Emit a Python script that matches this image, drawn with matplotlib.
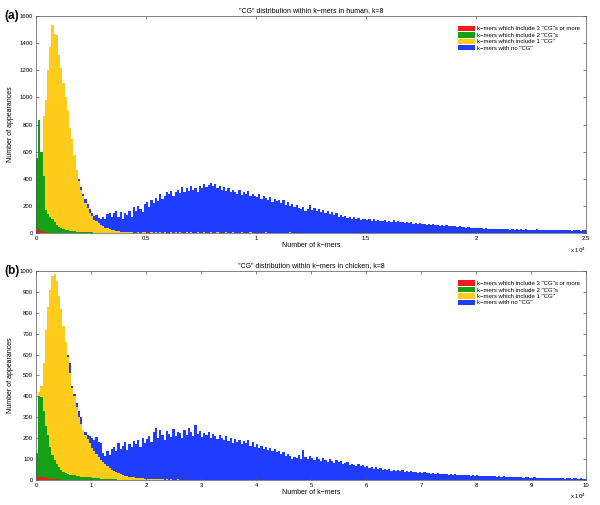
import matplotlib
matplotlib.use('Agg')
import matplotlib.pyplot as plt
import numpy as np

plt.rcParams['font.family'] = ['Liberation Sans', 'DejaVu Sans']

# ---- human, k=8 (bin width 100) ----
human_bw = 100
human_none = [5, 10, 20, 35, 50, 65, 80, 95, 110, 125,
              140, 155, 170, 190, 210, 230, 260, 300, 350,
              395, 340, 290, 250, 215, 175, 150, 125, 135, 110, 105,
              120, 100, 140, 150, 115, 145, 160, 120, 155, 105,
              150, 130, 165, 120, 195, 160, 200, 180, 155, 215,
              230, 195, 240, 220, 260, 235, 290, 250, 275, 300,
              290, 310, 270, 300, 320, 295, 340, 305, 330, 310,
              345, 320, 335, 300, 350, 330, 365, 340, 355, 370,
              345, 360, 330, 350, 320, 340, 310, 335, 300, 320,
              305, 290, 315, 280, 300, 285, 310, 270, 290, 275,
              265, 285, 250, 270, 255, 240, 265, 230, 250, 235,
              245, 220, 240, 210, 230, 200, 215, 190, 210, 185,
              175, 190, 165, 180, 205, 170, 185, 160, 175, 155,
              170, 150, 160, 140, 155, 130, 145, 120, 135, 115,
              125, 110, 120, 100, 115, 105, 110, 95, 105, 100,
              95, 100, 90, 105, 85, 98, 92, 88, 96, 84,
              90, 82, 94, 80, 86, 78, 84, 76, 80, 72,
              78, 70, 76, 68, 72, 66, 70, 62, 68, 60,
              64, 58, 62, 55, 60, 52, 56, 50, 54, 48,
              50, 46, 48, 42, 46, 40, 44, 38, 40, 36,
              38, 34, 36, 32, 35, 30, 33, 29, 32, 28,
              30, 27, 31, 26, 29, 25, 28, 24, 27, 25,
              26, 23, 27, 22, 25, 24, 22, 26, 21, 24,
              23, 20, 24, 21, 22, 19, 23, 20, 21, 22,
              19, 21, 20, 18, 22, 19, 20, 18, 21, 19]
human_one = [100, 300, 590, 860, 980, 1200, 1375, 1535, 1470, 1460,
             1310, 1215, 1105, 1005, 910, 775, 690, 577, 465, 380,
             320, 270, 220, 185, 147, 123, 98, 86, 74, 61,
             50, 40, 35, 30, 25, 20, 15, 12, 10, 8,
             7, 6, 5, 4, 3, 3, 5, 2, 4, 6,
             3, 2, 5, 3, 8, 2, 4, 3, 6, 2,
             3, 5, 2, 4, 3, 7, 2, 3, 4, 2,
             5, 3, 2, 6, 3, 2, 4, 3, 2, 5,
             2, 3, 4, 2, 3, 2, 6, 3, 2, 4,
             3, 2, 3, 5, 2, 3, 2, 4, 2, 3,
             2, 3, 2, 2, 4, 2, 3, 2, 2, 3,
             2, 2, 3, 2, 2, 4, 2, 2, 3, 2]
human_two = [550, 834, 600, 420, 170, 140, 115, 105, 80, 59,
             45, 34, 30, 22, 20, 18, 15, 12, 10, 8,
             7, 6, 5, 5, 4, 4, 3, 3, 2, 2]
human_three = [20, 30, 15, 8, 5, 3, 2, 2, 1, 1]

# ---- chicken, k=8 (bin width 400) ----
chick_bw = 400
chick_none = [30, 150, 250, 330, 400, 450, 480, 500, 510, 520,
              530, 530, 560, 580, 600, 560, 450, 410, 370, 330,
              300, 240, 230, 215, 210, 200, 190, 205, 180, 175,
              130, 115, 140, 120, 150, 160, 140, 175, 150, 165,
              180, 145, 170, 160, 185, 170, 190, 160, 200, 175,
              195, 210, 180, 230, 250, 200, 240, 215, 190, 235,
              220, 205, 245, 210, 230, 225, 200, 240, 215, 250,
              230, 210, 265, 220, 235, 205, 225, 215, 230, 200,
              220, 210, 195, 215, 200, 190, 210, 185, 200, 175,
              195, 180, 190, 170, 185, 175, 190, 165, 180, 160,
              170, 155, 165, 150, 160, 145, 155, 140, 150, 135,
              140, 125, 135, 115, 125, 115, 100, 110, 105, 120,
              100, 145, 110, 100, 115, 105, 95, 110, 100, 90,
              105, 95, 85, 100, 90, 80, 95, 85, 90, 75,
              80, 88, 70, 78, 72, 68, 75, 65, 72, 60,
              66, 58, 64, 55, 62, 52, 58, 50, 55, 47,
              52, 45, 50, 43, 48, 42, 46, 40, 44, 38,
              42, 36, 40, 35, 38, 33, 37, 32, 35, 30,
              34, 29, 32, 28, 31, 27, 30, 26, 28, 25,
              27, 24, 26, 23, 25, 22, 24, 21, 23, 20,
              22, 19, 21, 18, 20, 18, 19, 17, 18, 16,
              17, 15, 17, 14, 16, 14, 15, 13, 14, 12,
              14, 11, 13, 12, 11, 11, 12, 10, 11, 9,
              11, 10, 9, 10, 9, 8, 10, 9, 8, 9,
              7, 9, 8, 7, 8, 9, 7, 8, 6, 7]
chick_one = [60, 420, 450, 560, 720, 830, 910, 975, 985, 950,
             880, 820, 735, 660, 590, 510, 440, 400, 350, 300,
             270, 240, 215, 195, 175, 155, 140, 125, 110, 96,
             85, 75, 66, 58, 50, 44, 38, 33, 28, 24,
             20, 18, 16, 14, 12, 11, 10, 9, 8, 7,
             6, 5, 6, 4, 5, 3, 4, 3, 2, 3,
             2, 3, 2, 2, 3, 2, 2, 1, 2, 1]
chick_two = [130, 400, 395, 330, 260, 215, 160, 120, 95, 75,
             60, 47, 40, 35, 30, 26, 24, 22, 20, 18,
             16, 15, 14, 13, 12, 11, 10, 9, 8, 7,
             6, 5, 5, 4, 4, 3, 3, 2, 2, 2]
chick_three = [12, 15, 14, 12, 10, 8, 6, 5, 4, 3,
               3, 2, 2, 2, 1, 1, 1, 1]

labels = ['k\u2212mers which include 3 "CG"s or more',
          'k\u2212mers which include 2 "CG"s',
          'k\u2212mers which include 1 "CG"',
          'k\u2212mers with no "CG"']
colors = ['#f81a1a', '#14a014', '#ffcc1a', '#1f3cff']

human_xticks = [0, 5000, 10000, 15000, 20000, 25000]
human_xlabels = ['0', '0.5', '1', '1.5', '2', '2.5']
human_yticks = [0, 200, 400, 600, 800, 1000, 1200, 1400, 1600]
chick_xticks = [0, 10000, 20000, 30000, 40000, 50000, 60000, 70000, 80000, 90000, 100000]
chick_xlabels = ['0', '1', '2', '3', '4', '5', '6', '7', '8', '9', '10']
chick_yticks = [0, 100, 200, 300, 400, 500, 600, 700, 800, 900, 1000]

fig = plt.figure(figsize=(6, 5.05), dpi=100)
ax1 = fig.add_axes([0.06, 0.5386, 0.917, 0.4297])
ax2 = fig.add_axes([0.06, 0.0495, 0.917, 0.4139])


def panel(ax, bw, series, xt, xl, yt, xmax, title, tag):
    # draw order: none, 1, 2, 3 (3 on top); legend order reversed
    handles = []
    for vals, c in zip(series[::-1], colors[::-1]):
        x = np.arange(len(vals)) * bw
        h = ax.bar(x, vals, width=bw, align='edge', color=c, linewidth=0)
        handles.append(h)
    ax.set_xlim(0, xmax)
    ax.set_ylim(0, yt[-1])
    ax.set_xticks(xt)
    ax.set_xticklabels(xl)
    ax.set_yticks(yt)
    ax.tick_params(direction='in', length=2.5, width=0.5, labelsize=4.3,
                   top=True, right=True, color='#555555', pad=2)
    for s in ax.spines.values():
        s.set_linewidth(0.5)
        s.set_color('#555555')
    ax.set_title(title, fontsize=5, pad=3)
    ax.set_xlabel('Number of k\u2212mers', fontsize=5, labelpad=1)
    ax.set_ylabel('Number of appearances', fontsize=5, labelpad=4)
    ax.text(1.0, -0.058, r'x 10$^4$', transform=ax.transAxes,
            ha='right', va='top', fontsize=4.3)
    ax.text(-0.058, 1.0, tag, transform=ax.transAxes, ha='left', va='center',
            fontsize=8.5, fontweight='bold')
    ax.legend(handles[::-1], labels, loc='upper right',
              bbox_to_anchor=(0.988, 0.955), frameon=False, fontsize=4.3,
              handlelength=2.9, handleheight=1.0, labelspacing=0.12,
              handletextpad=0.2, borderaxespad=0.0, borderpad=0.0)


panel(ax1, human_bw, [human_three, human_two, human_one, human_none],
      human_xticks, human_xlabels, human_yticks, 25000,
      '"CG" distribution within k\u2212mers in human, k=8', '(a)')
panel(ax2, chick_bw, [chick_three, chick_two, chick_one, chick_none],
      chick_xticks, chick_xlabels, chick_yticks, 100000,
      '"CG" distribution within k\u2212mers in chicken, k=8', '(b)')

fig.savefig('out.png', dpi=100)
